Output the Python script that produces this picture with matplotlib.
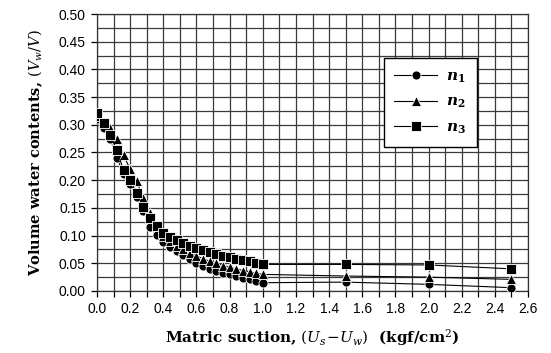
import matplotlib
matplotlib.use("Agg")
import matplotlib.pyplot as plt
from matplotlib.ticker import MultipleLocator

# Data
x = [0.00, 0.04, 0.08, 0.12, 0.16, 0.20, 0.24, 0.28, 0.32, 0.36, 0.40, 0.44, 0.48,
     0.52, 0.56, 0.60, 0.64, 0.68, 0.72, 0.76, 0.80, 0.84, 0.88, 0.92, 0.96, 1.00,
     1.5, 2.0, 2.5]
n1 = [0.310, 0.295, 0.275, 0.240, 0.212, 0.193, 0.170, 0.145, 0.116, 0.101, 0.089,
      0.080, 0.072, 0.065, 0.058, 0.051, 0.045, 0.040, 0.036, 0.033, 0.030, 0.027,
      0.024, 0.021, 0.018, 0.015, 0.016, 0.012, 0.006]
n2 = [0.315, 0.305, 0.295, 0.275, 0.245, 0.220, 0.198, 0.167, 0.140, 0.118, 0.100,
      0.090, 0.082, 0.075, 0.069, 0.064, 0.058, 0.054, 0.050, 0.046, 0.043, 0.040,
      0.037, 0.035, 0.032, 0.030, 0.027, 0.025, 0.021]
n3 = [0.321, 0.303, 0.282, 0.254, 0.218, 0.200, 0.176, 0.151, 0.131, 0.117, 0.104,
      0.097, 0.092, 0.087, 0.082, 0.078, 0.074, 0.070, 0.067, 0.064, 0.061, 0.058,
      0.056, 0.054, 0.051, 0.048, 0.048, 0.047, 0.040]
labels = [r'$\mathbfit{n}_{\mathbf{1}}$', r'$\mathbfit{n}_{\mathbf{2}}$', r'$\mathbfit{n}_{\mathbf{3}}$']
markers = ['o', '^', 's']

plt.rcParams['mathtext.fontset'] = 'dejavuserif'

fig = plt.figure(figsize=(5.51, 3.53), dpi=100)
ax = fig.add_axes([97/551, 62/353, 431/551, 277/353])

for ys, m, lab in zip([n1, n2, n3], markers, labels):
    ax.plot(x, ys, color='black', lw=0.8, marker=m, markersize=6.5 if m != '^' else 7,
            markerfacecolor='black', markeredgecolor='white', markeredgewidth=0.6,
            label=lab, zorder=3)

ax.set_xlim(0, 2.6)
ax.set_ylim(0, 0.5)
ax.xaxis.set_major_locator(MultipleLocator(0.2))
ax.xaxis.set_minor_locator(MultipleLocator(0.1))
ax.yaxis.set_major_locator(MultipleLocator(0.05))
ax.yaxis.set_minor_locator(MultipleLocator(0.025))
ax.xaxis.set_major_formatter(matplotlib.ticker.FormatStrFormatter('%.1f'))
ax.yaxis.set_major_formatter(matplotlib.ticker.FormatStrFormatter('%.2f'))
ax.grid(True, which='both', color='#3a3a3a', lw=0.9)
ax.set_axisbelow(True)
ax.tick_params(which='major', direction='out', length=4, width=0.9, labelsize=10,
               colors='black', pad=4)
ax.tick_params(axis='x', which='minor', direction='out', length=4, width=0.9)
ax.tick_params(axis='y', which='minor', length=0)
for lbl in ax.get_xticklabels() + ax.get_yticklabels():
    lbl.set_fontfamily('Liberation Sans')
for s in ax.spines.values():
    s.set_linewidth(0.9)
    s.set_color('#333333')

ax.set_xlabel(r'Matric suction, $(U_s\!-\!U_w)$  (kgf/cm$^2$)', fontsize=11,
              fontfamily='DejaVu Serif', fontweight='bold', labelpad=8)
ax.set_ylabel(r'Volume water contents, $(V_w/V)$', fontsize=10.5,
              fontfamily='DejaVu Serif', fontweight='bold', labelpad=10)

leg = fig.legend(loc='upper left', bbox_to_anchor=(376/551, 1 - 50/353),
                 fontsize=11, frameon=True, fancybox=False, handlelength=2.8,
                 labelspacing=0.6, borderpad=0.7, handletextpad=0.6)
leg.get_frame().set_edgecolor('black')
leg.get_frame().set_linewidth(1.0)
leg.get_frame().set_facecolor('white')
leg.get_frame().set_alpha(1)

fig.savefig('out.png', dpi=100)
